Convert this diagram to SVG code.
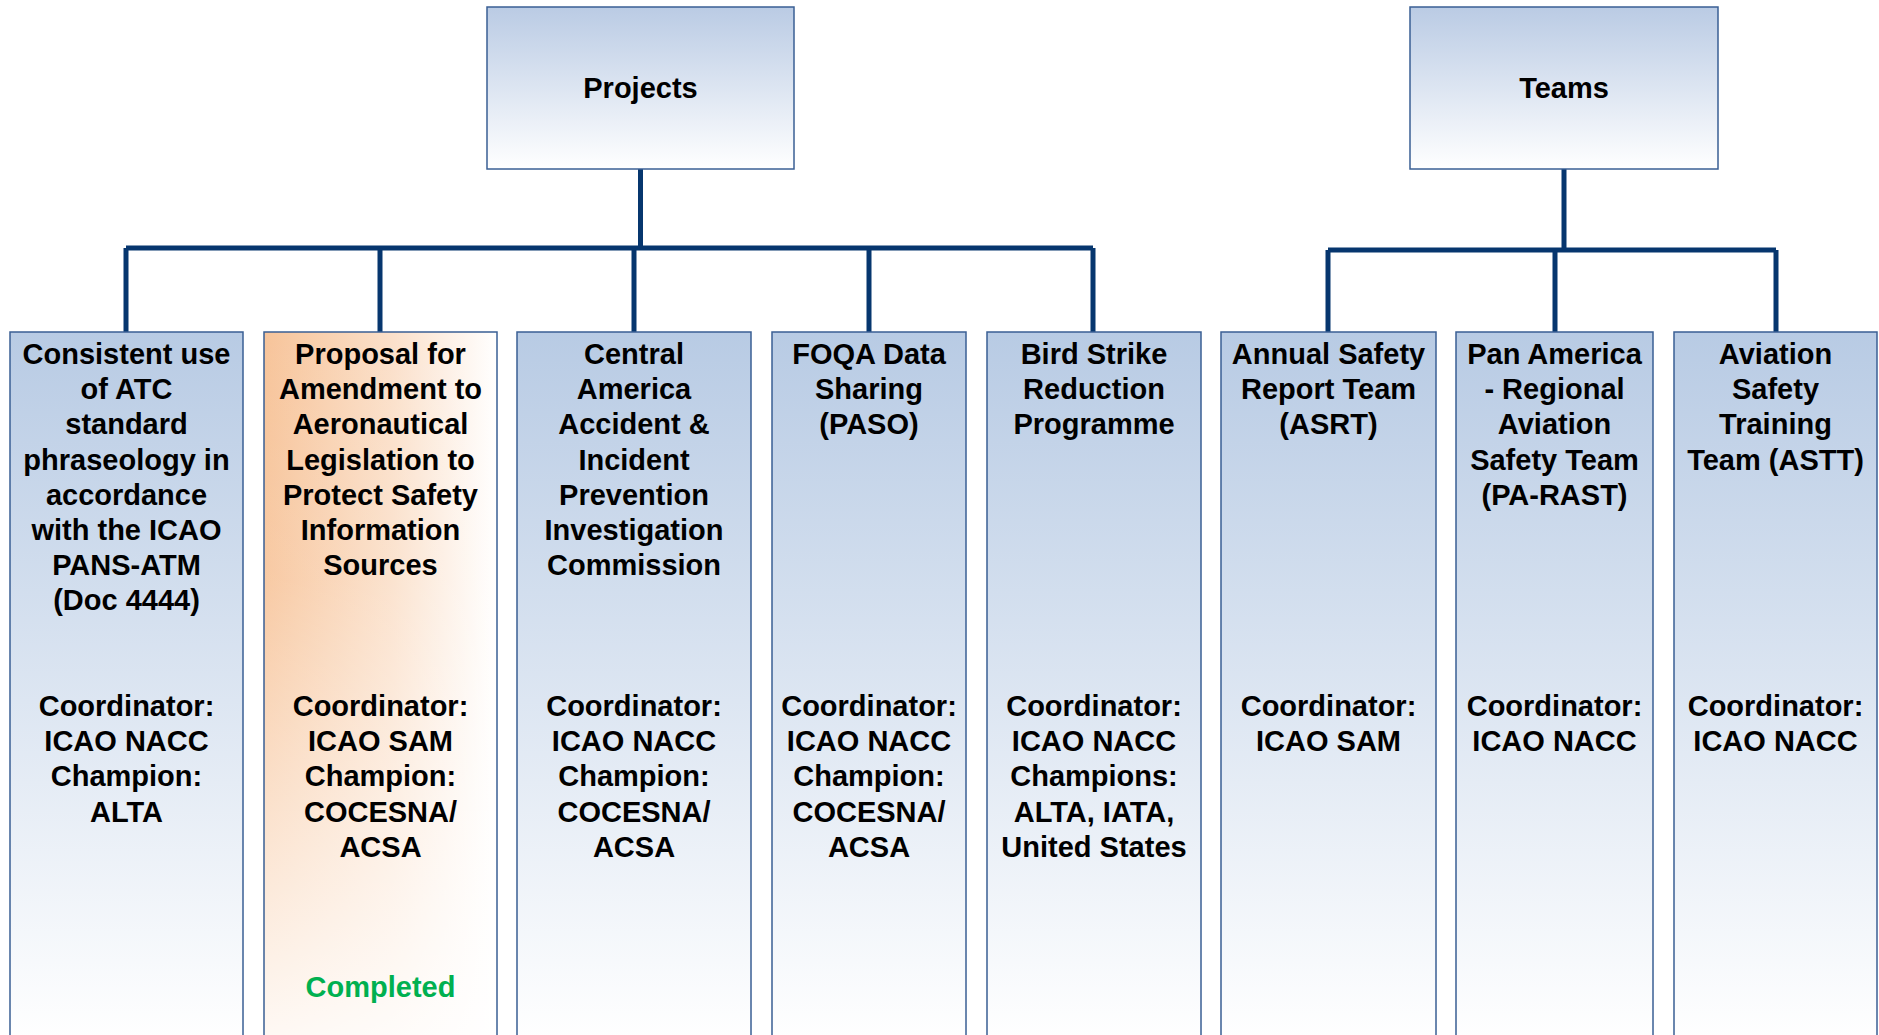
<svg xmlns="http://www.w3.org/2000/svg" width="1879" height="1035" viewBox="0 0 1879 1035">
<defs>
<linearGradient id="gBlue" x1="0" y1="0" x2="0" y2="1">
<stop offset="0" stop-color="#B8CBE4"/>
<stop offset="1" stop-color="#FFFFFF"/>
</linearGradient>
<linearGradient id="gHead" x1="0" y1="0" x2="0" y2="1">
<stop offset="0" stop-color="#BACBE4"/>
<stop offset="1" stop-color="#FFFFFF"/>
</linearGradient>
<linearGradient id="gOrange" x1="0" y1="0" x2="1" y2="0">
<stop offset="0" stop-color="#F7C49A"/>
<stop offset="0.55" stop-color="#FBE0CA"/>
<stop offset="1" stop-color="#FFFFFF"/>
</linearGradient>
<linearGradient id="gFade" x1="0" y1="0" x2="0" y2="1">
<stop offset="0" stop-color="#FFFFFF" stop-opacity="0"/>
<stop offset="0.35" stop-color="#FFFFFF" stop-opacity="0.1"/>
<stop offset="1" stop-color="#FFFFFF" stop-opacity="0.9"/>
</linearGradient>
<style>
.box{fill:url(#gBlue);stroke:#3A5F94;stroke-width:1.5}
.head{fill:url(#gHead);stroke:#3A5F94;stroke-width:1.5}
.t{font-family:"Liberation Sans",Arial,sans-serif;font-weight:bold;font-size:29px;fill:#000;text-anchor:middle}
.g{fill:#00B050}
.conn{fill:none;stroke:#06366E;stroke-width:5}
</style>
</defs>
<rect width="1879" height="1035" fill="#FFFFFF"/>

<g id="connectors">
<path class="conn" d="M640.5 169V248M126 248H1093M126 248V332M380 248V332M634 248V332M869 248V332M1093 248V332"/>
<path class="conn" d="M1564 169V250M1328 250H1776M1328 250V332M1555 250V332M1776 250V332"/>
</g>

<g id="projects">
<rect class="head" x="487" y="7" width="307" height="162"/>
<text class="t" x="640.5" y="98">Projects</text>
</g>

<g id="teams">
<rect class="head" x="1410" y="7" width="308" height="162"/>
<text class="t" x="1564" y="98">Teams</text>
</g>

<g id="p1">
<rect class="box" x="10" y="332" width="233" height="710"/>
<text class="t" x="126.5" y="364"><tspan x="126.5">Consistent use</tspan><tspan x="126.5" dy="35.2">of ATC</tspan><tspan x="126.5" dy="35.2">standard</tspan><tspan x="126.5" dy="35.2">phraseology in</tspan><tspan x="126.5" dy="35.2">accordance</tspan><tspan x="126.5" dy="35.2">with the ICAO</tspan><tspan x="126.5" dy="35.2">PANS-ATM</tspan><tspan x="126.5" dy="35.2">(Doc 4444)</tspan></text>
<text class="t" x="126.5" y="716"><tspan x="126.5">Coordinator:</tspan><tspan x="126.5" dy="35.2">ICAO NACC</tspan><tspan x="126.5" dy="35.2">Champion:</tspan><tspan x="126.5" dy="35.2">ALTA</tspan></text>
</g>

<g id="p2">
<rect x="264" y="332" width="233" height="710" fill="url(#gOrange)"/>
<rect x="264" y="332" width="233" height="710" fill="url(#gFade)" stroke="#3A5F94" stroke-width="1.5"/>
<text class="t" x="380.5" y="364"><tspan x="380.5">Proposal for</tspan><tspan x="380.5" dy="35.2">Amendment to</tspan><tspan x="380.5" dy="35.2">Aeronautical</tspan><tspan x="380.5" dy="35.2">Legislation to</tspan><tspan x="380.5" dy="35.2">Protect Safety</tspan><tspan x="380.5" dy="35.2">Information</tspan><tspan x="380.5" dy="35.2">Sources</tspan></text>
<text class="t" x="380.5" y="716"><tspan x="380.5">Coordinator:</tspan><tspan x="380.5" dy="35.2">ICAO SAM</tspan><tspan x="380.5" dy="35.2">Champion:</tspan><tspan x="380.5" dy="35.2">COCESNA/</tspan><tspan x="380.5" dy="35.2">ACSA</tspan></text>
<text class="t g" x="380.5" y="997">Completed</text>
</g>

<g id="p3">
<rect class="box" x="517" y="332" width="234" height="710"/>
<text class="t" x="634" y="364"><tspan x="634">Central</tspan><tspan x="634" dy="35.2">America</tspan><tspan x="634" dy="35.2">Accident &amp;</tspan><tspan x="634" dy="35.2">Incident</tspan><tspan x="634" dy="35.2">Prevention</tspan><tspan x="634" dy="35.2">Investigation</tspan><tspan x="634" dy="35.2">Commission</tspan></text>
<text class="t" x="634" y="716"><tspan x="634">Coordinator:</tspan><tspan x="634" dy="35.2">ICAO NACC</tspan><tspan x="634" dy="35.2">Champion:</tspan><tspan x="634" dy="35.2">COCESNA/</tspan><tspan x="634" dy="35.2">ACSA</tspan></text>
</g>

<g id="p4">
<rect class="box" x="772" y="332" width="194" height="710"/>
<text class="t" x="869" y="364"><tspan x="869">FOQA Data</tspan><tspan x="869" dy="35.2">Sharing</tspan><tspan x="869" dy="35.2">(PASO)</tspan></text>
<text class="t" x="869" y="716"><tspan x="869">Coordinator:</tspan><tspan x="869" dy="35.2">ICAO NACC</tspan><tspan x="869" dy="35.2">Champion:</tspan><tspan x="869" dy="35.2">COCESNA/</tspan><tspan x="869" dy="35.2">ACSA</tspan></text>
</g>

<g id="p5">
<rect class="box" x="987" y="332" width="214" height="710"/>
<text class="t" x="1094" y="364"><tspan x="1094">Bird Strike</tspan><tspan x="1094" dy="35.2">Reduction</tspan><tspan x="1094" dy="35.2">Programme</tspan></text>
<text class="t" x="1094" y="716"><tspan x="1094">Coordinator:</tspan><tspan x="1094" dy="35.2">ICAO NACC</tspan><tspan x="1094" dy="35.2">Champions:</tspan><tspan x="1094" dy="35.2">ALTA, IATA,</tspan><tspan x="1094" dy="35.2">United States</tspan></text>
</g>

<g id="t1">
<rect class="box" x="1221" y="332" width="215" height="710"/>
<text class="t" x="1328.5" y="364"><tspan x="1328.5">Annual Safety</tspan><tspan x="1328.5" dy="35.2">Report Team</tspan><tspan x="1328.5" dy="35.2">(ASRT)</tspan></text>
<text class="t" x="1328.5" y="716"><tspan x="1328.5">Coordinator:</tspan><tspan x="1328.5" dy="35.2">ICAO SAM</tspan></text>
</g>

<g id="t2">
<rect class="box" x="1456" y="332" width="197" height="710"/>
<text class="t" x="1554.5" y="364"><tspan x="1554.5">Pan America</tspan><tspan x="1554.5" dy="35.2">- Regional</tspan><tspan x="1554.5" dy="35.2">Aviation</tspan><tspan x="1554.5" dy="35.2">Safety Team</tspan><tspan x="1554.5" dy="35.2">(PA-RAST)</tspan></text>
<text class="t" x="1554.5" y="716"><tspan x="1554.5">Coordinator:</tspan><tspan x="1554.5" dy="35.2">ICAO NACC</tspan></text>
</g>

<g id="t3">
<rect class="box" x="1674" y="332" width="203" height="710"/>
<text class="t" x="1775.5" y="364"><tspan x="1775.5">Aviation</tspan><tspan x="1775.5" dy="35.2">Safety</tspan><tspan x="1775.5" dy="35.2">Training</tspan><tspan x="1775.5" dy="35.2">Team (ASTT)</tspan></text>
<text class="t" x="1775.5" y="716"><tspan x="1775.5">Coordinator:</tspan><tspan x="1775.5" dy="35.2">ICAO NACC</tspan></text>
</g>
</svg>
